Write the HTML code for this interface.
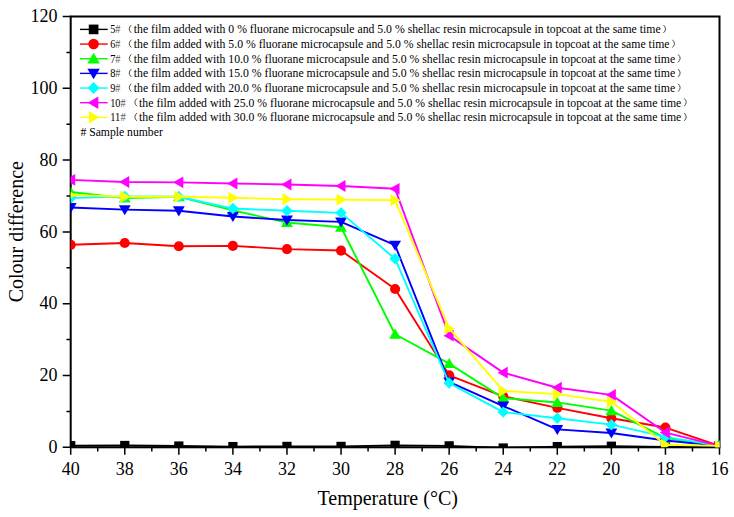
<!DOCTYPE html>
<html><head><meta charset="utf-8"><style>
html,body{margin:0;padding:0;background:#fff;width:734px;height:517px;overflow:hidden;}
svg{display:block;}
text{font-family:"Liberation Serif",serif;fill:#000;}
</style></head><body>
<svg width="734" height="517" viewBox="0 0 734 517">
<rect width="734" height="517" fill="#fff"/>
<rect x="70.70" y="16.50" width="648.80" height="430.80" fill="none" stroke="#000" stroke-width="2"/>
<path d="M70.70 447.30V454.70M124.77 447.30V454.70M178.83 447.30V454.70M232.90 447.30V454.70M286.97 447.30V454.70M341.03 447.30V454.70M395.10 447.30V454.70M449.17 447.30V454.70M503.23 447.30V454.70M557.30 447.30V454.70M611.37 447.30V454.70M665.43 447.30V454.70M719.50 447.30V454.70M97.73 447.30V451.50M151.80 447.30V451.50M205.87 447.30V451.50M259.93 447.30V451.50M314.00 447.30V451.50M368.07 447.30V451.50M422.13 447.30V451.50M476.20 447.30V451.50M530.27 447.30V451.50M584.33 447.30V451.50M638.40 447.30V451.50M692.47 447.30V451.50M70.70 447.30H62.70M70.70 375.50H62.70M70.70 303.70H62.70M70.70 231.90H62.70M70.70 160.10H62.70M70.70 88.30H62.70M70.70 16.50H62.70M70.70 411.40H66.50M70.70 339.60H66.50M70.70 267.80H66.50M70.70 196.00H66.50M70.70 124.20H66.50M70.70 52.40H66.50" stroke="#000" stroke-width="1.5" fill="none"/>
<defs><clipPath id="pc"><rect x="70.70" y="16.50" width="648.80" height="430.80"/></clipPath></defs><g clip-path="url(#pc)">
<polyline points="70.70,445.68 124.77,445.50 178.83,446.04 232.90,446.58 286.97,446.40 341.03,446.40 395.10,445.33 449.17,445.86 503.23,448.02 557.30,446.58 611.37,446.22 665.43,446.94 719.50,447.30" fill="none" stroke="#000000" stroke-width="1.9" stroke-linejoin="round"/>
<rect x="66.08" y="441.06" width="9.24" height="9.24" fill="#000000"/>
<rect x="120.15" y="440.88" width="9.24" height="9.24" fill="#000000"/>
<rect x="174.21" y="441.42" width="9.24" height="9.24" fill="#000000"/>
<rect x="228.28" y="441.96" width="9.24" height="9.24" fill="#000000"/>
<rect x="282.35" y="441.78" width="9.24" height="9.24" fill="#000000"/>
<rect x="336.41" y="441.78" width="9.24" height="9.24" fill="#000000"/>
<rect x="390.48" y="440.71" width="9.24" height="9.24" fill="#000000"/>
<rect x="444.55" y="441.24" width="9.24" height="9.24" fill="#000000"/>
<rect x="498.61" y="443.40" width="9.24" height="9.24" fill="#000000"/>
<rect x="552.68" y="441.96" width="9.24" height="9.24" fill="#000000"/>
<rect x="606.75" y="441.60" width="9.24" height="9.24" fill="#000000"/>
<rect x="660.81" y="442.32" width="9.24" height="9.24" fill="#000000"/>
<rect x="714.88" y="442.68" width="9.24" height="9.24" fill="#000000"/>
<polyline points="70.70,244.82 124.77,243.03 178.83,246.26 232.90,245.90 286.97,249.13 341.03,250.57 395.10,288.98 449.17,375.32 503.23,396.32 557.30,407.81 611.37,418.22 665.43,427.56 719.50,445.86" fill="none" stroke="#ff0000" stroke-width="1.9" stroke-linejoin="round"/>
<circle cx="70.70" cy="244.82" r="5.06" fill="#ff0000"/>
<circle cx="124.77" cy="243.03" r="5.06" fill="#ff0000"/>
<circle cx="178.83" cy="246.26" r="5.06" fill="#ff0000"/>
<circle cx="232.90" cy="245.90" r="5.06" fill="#ff0000"/>
<circle cx="286.97" cy="249.13" r="5.06" fill="#ff0000"/>
<circle cx="341.03" cy="250.57" r="5.06" fill="#ff0000"/>
<circle cx="395.10" cy="288.98" r="5.06" fill="#ff0000"/>
<circle cx="449.17" cy="375.32" r="5.06" fill="#ff0000"/>
<circle cx="503.23" cy="396.32" r="5.06" fill="#ff0000"/>
<circle cx="557.30" cy="407.81" r="5.06" fill="#ff0000"/>
<circle cx="611.37" cy="418.22" r="5.06" fill="#ff0000"/>
<circle cx="665.43" cy="427.56" r="5.06" fill="#ff0000"/>
<circle cx="719.50" cy="445.86" r="5.06" fill="#ff0000"/>
<polyline points="70.70,192.05 124.77,198.15 178.83,196.72 232.90,210.36 286.97,222.57 341.03,227.23 395.10,334.22 449.17,363.65 503.23,398.12 557.30,402.43 611.37,410.68 665.43,437.97 719.50,445.86" fill="none" stroke="#00ff00" stroke-width="1.9" stroke-linejoin="round"/>
<path d="M70.70 186.39L76.64 196.51L64.76 196.51Z" fill="#00ff00"/>
<path d="M124.77 192.49L130.71 202.61L118.83 202.61Z" fill="#00ff00"/>
<path d="M178.83 191.06L184.77 201.18L172.89 201.18Z" fill="#00ff00"/>
<path d="M232.90 204.70L238.84 214.82L226.96 214.82Z" fill="#00ff00"/>
<path d="M286.97 216.91L292.91 227.03L281.03 227.03Z" fill="#00ff00"/>
<path d="M341.03 221.57L346.97 231.69L335.09 231.69Z" fill="#00ff00"/>
<path d="M395.10 328.56L401.04 338.68L389.16 338.68Z" fill="#00ff00"/>
<path d="M449.17 357.99L455.11 368.11L443.23 368.11Z" fill="#00ff00"/>
<path d="M503.23 392.46L509.17 402.58L497.29 402.58Z" fill="#00ff00"/>
<path d="M557.30 396.76L563.24 406.88L551.36 406.88Z" fill="#00ff00"/>
<path d="M611.37 405.02L617.31 415.14L605.43 415.14Z" fill="#00ff00"/>
<path d="M665.43 432.31L671.37 442.43L659.49 442.43Z" fill="#00ff00"/>
<path d="M719.50 440.20L725.44 450.32L713.56 450.32Z" fill="#00ff00"/>
<polyline points="70.70,207.49 124.77,209.64 178.83,210.72 232.90,216.46 286.97,220.05 341.03,221.85 395.10,245.18 449.17,381.96 503.23,406.01 557.30,429.35 611.37,432.94 665.43,440.48 719.50,445.86" fill="none" stroke="#0000ff" stroke-width="1.9" stroke-linejoin="round"/>
<path d="M70.70 213.15L76.64 203.03L64.76 203.03Z" fill="#0000ff"/>
<path d="M124.77 215.30L130.71 205.18L118.83 205.18Z" fill="#0000ff"/>
<path d="M178.83 216.38L184.77 206.26L172.89 206.26Z" fill="#0000ff"/>
<path d="M232.90 222.12L238.84 212.00L226.96 212.00Z" fill="#0000ff"/>
<path d="M286.97 225.71L292.91 215.59L281.03 215.59Z" fill="#0000ff"/>
<path d="M341.03 227.51L346.97 217.39L335.09 217.39Z" fill="#0000ff"/>
<path d="M395.10 250.84L401.04 240.72L389.16 240.72Z" fill="#0000ff"/>
<path d="M449.17 387.62L455.11 377.50L443.23 377.50Z" fill="#0000ff"/>
<path d="M503.23 411.68L509.17 401.56L497.29 401.56Z" fill="#0000ff"/>
<path d="M557.30 435.01L563.24 424.89L551.36 424.89Z" fill="#0000ff"/>
<path d="M611.37 438.60L617.31 428.48L605.43 428.48Z" fill="#0000ff"/>
<path d="M665.43 446.14L671.37 436.02L659.49 436.02Z" fill="#0000ff"/>
<path d="M719.50 451.52L725.44 441.40L713.56 441.40Z" fill="#0000ff"/>
<polyline points="70.70,198.15 124.77,196.36 178.83,196.72 232.90,208.56 286.97,210.72 341.03,212.87 395.10,258.83 449.17,383.04 503.23,412.12 557.30,418.22 611.37,424.68 665.43,436.89 719.50,445.86" fill="none" stroke="#00ffff" stroke-width="1.9" stroke-linejoin="round"/>
<path d="M70.70 192.43L76.42 198.15L70.70 203.87L64.98 198.15Z" fill="#00ffff"/>
<path d="M124.77 190.64L130.49 196.36L124.77 202.08L119.05 196.36Z" fill="#00ffff"/>
<path d="M178.83 191.00L184.55 196.72L178.83 202.44L173.11 196.72Z" fill="#00ffff"/>
<path d="M232.90 202.84L238.62 208.56L232.90 214.28L227.18 208.56Z" fill="#00ffff"/>
<path d="M286.97 205.00L292.69 210.72L286.97 216.44L281.25 210.72Z" fill="#00ffff"/>
<path d="M341.03 207.15L346.75 212.87L341.03 218.59L335.31 212.87Z" fill="#00ffff"/>
<path d="M395.10 253.11L400.82 258.83L395.10 264.55L389.38 258.83Z" fill="#00ffff"/>
<path d="M449.17 377.32L454.89 383.04L449.17 388.76L443.45 383.04Z" fill="#00ffff"/>
<path d="M503.23 406.40L508.95 412.12L503.23 417.84L497.51 412.12Z" fill="#00ffff"/>
<path d="M557.30 412.50L563.02 418.22L557.30 423.94L551.58 418.22Z" fill="#00ffff"/>
<path d="M611.37 418.96L617.09 424.68L611.37 430.40L605.65 424.68Z" fill="#00ffff"/>
<path d="M665.43 431.17L671.15 436.89L665.43 442.61L659.71 436.89Z" fill="#00ffff"/>
<path d="M719.50 440.14L725.22 445.86L719.50 451.58L713.78 445.86Z" fill="#00ffff"/>
<polyline points="70.70,179.84 124.77,182.00 178.83,182.36 232.90,183.44 286.97,184.51 341.03,185.95 395.10,188.82 449.17,335.65 503.23,372.63 557.30,387.71 611.37,394.89 665.43,432.58 719.50,445.86" fill="none" stroke="#ff00ff" stroke-width="1.9" stroke-linejoin="round"/>
<path d="M65.04 179.84L75.16 173.90L75.16 185.78Z" fill="#ff00ff"/>
<path d="M119.11 182.00L129.23 176.06L129.23 187.94Z" fill="#ff00ff"/>
<path d="M173.17 182.36L183.29 176.42L183.29 188.30Z" fill="#ff00ff"/>
<path d="M227.24 183.44L237.36 177.50L237.36 189.38Z" fill="#ff00ff"/>
<path d="M281.31 184.51L291.43 178.57L291.43 190.45Z" fill="#ff00ff"/>
<path d="M335.37 185.95L345.49 180.01L345.49 191.89Z" fill="#ff00ff"/>
<path d="M389.44 188.82L399.56 182.88L399.56 194.76Z" fill="#ff00ff"/>
<path d="M443.51 335.65L453.63 329.71L453.63 341.59Z" fill="#ff00ff"/>
<path d="M497.57 372.63L507.69 366.69L507.69 378.57Z" fill="#ff00ff"/>
<path d="M551.64 387.71L561.76 381.77L561.76 393.65Z" fill="#ff00ff"/>
<path d="M605.71 394.89L615.83 388.95L615.83 400.83Z" fill="#ff00ff"/>
<path d="M659.77 432.58L669.89 426.64L669.89 438.52Z" fill="#ff00ff"/>
<path d="M713.84 445.86L723.96 439.92L723.96 451.80Z" fill="#ff00ff"/>
<polyline points="70.70,194.92 124.77,196.72 178.83,196.72 232.90,197.79 286.97,199.23 341.03,199.59 395.10,200.31 449.17,328.47 503.23,390.94 557.30,394.17 611.37,401.71 665.43,444.79 719.50,445.86" fill="none" stroke="#ffff00" stroke-width="1.9" stroke-linejoin="round"/>
<path d="M76.36 194.92L66.24 188.98L66.24 200.86Z" fill="#ffff00"/>
<path d="M130.43 196.72L120.31 190.78L120.31 202.66Z" fill="#ffff00"/>
<path d="M184.49 196.72L174.37 190.78L174.37 202.66Z" fill="#ffff00"/>
<path d="M238.56 197.79L228.44 191.85L228.44 203.73Z" fill="#ffff00"/>
<path d="M292.63 199.23L282.51 193.29L282.51 205.17Z" fill="#ffff00"/>
<path d="M346.69 199.59L336.57 193.65L336.57 205.53Z" fill="#ffff00"/>
<path d="M400.76 200.31L390.64 194.37L390.64 206.25Z" fill="#ffff00"/>
<path d="M454.83 328.47L444.71 322.53L444.71 334.41Z" fill="#ffff00"/>
<path d="M508.89 390.94L498.77 385.00L498.77 396.88Z" fill="#ffff00"/>
<path d="M562.96 394.17L552.84 388.23L552.84 400.11Z" fill="#ffff00"/>
<path d="M617.03 401.71L606.91 395.77L606.91 407.65Z" fill="#ffff00"/>
<path d="M671.09 444.79L660.97 438.85L660.97 450.73Z" fill="#ffff00"/>
<path d="M725.16 445.86L715.04 439.92L715.04 451.80Z" fill="#ffff00"/>
</g>
<text x="70.70" y="474.5" font-size="18" text-anchor="middle">40</text>
<text x="124.77" y="474.5" font-size="18" text-anchor="middle">38</text>
<text x="178.83" y="474.5" font-size="18" text-anchor="middle">36</text>
<text x="232.90" y="474.5" font-size="18" text-anchor="middle">34</text>
<text x="286.97" y="474.5" font-size="18" text-anchor="middle">32</text>
<text x="341.03" y="474.5" font-size="18" text-anchor="middle">30</text>
<text x="395.10" y="474.5" font-size="18" text-anchor="middle">28</text>
<text x="449.17" y="474.5" font-size="18" text-anchor="middle">26</text>
<text x="503.23" y="474.5" font-size="18" text-anchor="middle">24</text>
<text x="557.30" y="474.5" font-size="18" text-anchor="middle">22</text>
<text x="611.37" y="474.5" font-size="18" text-anchor="middle">20</text>
<text x="665.43" y="474.5" font-size="18" text-anchor="middle">18</text>
<text x="719.50" y="474.5" font-size="18" text-anchor="middle">16</text>
<text x="57.5" y="452.90" font-size="18" text-anchor="end">0</text>
<text x="57.5" y="381.10" font-size="18" text-anchor="end">20</text>
<text x="57.5" y="309.30" font-size="18" text-anchor="end">40</text>
<text x="57.5" y="237.50" font-size="18" text-anchor="end">60</text>
<text x="57.5" y="165.70" font-size="18" text-anchor="end">80</text>
<text x="57.5" y="93.90" font-size="18" text-anchor="end">100</text>
<text x="57.5" y="22.10" font-size="18" text-anchor="end">120</text>
<text x="387.7" y="505" font-size="20" text-anchor="middle">Temperature (°C)</text>
<text transform="translate(23,231.7) rotate(-90)" font-size="20" text-anchor="middle">Colour difference</text>
<path d="M80 29.40H107.7" stroke="#000000" stroke-width="1.4"/>
<rect x="88.77" y="24.57" width="9.66" height="9.66" fill="#000000"/>
<text x="110.2" y="33.40" font-size="11.6" textLength="10.3" lengthAdjust="spacingAndGlyphs">5<tspan fill="#555">#</tspan></text>
<path d="M131.30 25.10Q127.20 29.00 131.30 32.90" fill="none" stroke="#444" stroke-width="0.95"/>
<text x="133.80" y="33.40" font-size="11.6" textLength="526.80" lengthAdjust="spacingAndGlyphs">the film added with 0 % fluorane microcapsule and 5.0 % shellac resin microcapsule in topcoat at the same time</text>
<path d="M663.50 25.10Q667.60 29.00 663.50 32.90" fill="none" stroke="#444" stroke-width="0.95"/>
<path d="M80 44.06H107.7" stroke="#ff0000" stroke-width="1.4"/>
<circle cx="93.60" cy="44.06" r="5.29" fill="#ff0000"/>
<text x="110.2" y="48.06" font-size="11.6" textLength="10.3" lengthAdjust="spacingAndGlyphs">6<tspan fill="#555">#</tspan></text>
<path d="M131.30 39.76Q127.20 43.66 131.30 47.56" fill="none" stroke="#444" stroke-width="0.95"/>
<text x="133.80" y="48.06" font-size="11.6" textLength="535.70" lengthAdjust="spacingAndGlyphs">the film added with 5.0 % fluorane microcapsule and 5.0 % shellac resin microcapsule in topcoat at the same time</text>
<path d="M672.40 39.76Q676.50 43.66 672.40 47.56" fill="none" stroke="#444" stroke-width="0.95"/>
<path d="M80 58.72H107.7" stroke="#00ff00" stroke-width="1.4"/>
<path d="M93.60 52.83L99.81 63.41L87.39 63.41Z" fill="#00ff00"/>
<text x="110.2" y="62.72" font-size="11.6" textLength="10.3" lengthAdjust="spacingAndGlyphs">7<tspan fill="#555">#</tspan></text>
<path d="M131.30 54.42Q127.20 58.32 131.30 62.22" fill="none" stroke="#444" stroke-width="0.95"/>
<text x="133.80" y="62.72" font-size="11.6" textLength="541.40" lengthAdjust="spacingAndGlyphs">the film added with 10.0 % fluorane microcapsule and 5.0 % shellac resin microcapsule in topcoat at the same time</text>
<path d="M678.10 54.42Q682.20 58.32 678.10 62.22" fill="none" stroke="#444" stroke-width="0.95"/>
<path d="M80 73.38H107.7" stroke="#0000ff" stroke-width="1.4"/>
<path d="M93.60 79.27L99.81 68.69L87.39 68.69Z" fill="#0000ff"/>
<text x="110.2" y="77.38" font-size="11.6" textLength="10.3" lengthAdjust="spacingAndGlyphs">8<tspan fill="#555">#</tspan></text>
<path d="M131.30 69.08Q127.20 72.98 131.30 76.88" fill="none" stroke="#444" stroke-width="0.95"/>
<text x="133.80" y="77.38" font-size="11.6" textLength="541.40" lengthAdjust="spacingAndGlyphs">the film added with 15.0 % fluorane microcapsule and 5.0 % shellac resin microcapsule in topcoat at the same time</text>
<path d="M678.10 69.08Q682.20 72.98 678.10 76.88" fill="none" stroke="#444" stroke-width="0.95"/>
<path d="M80 88.04H107.7" stroke="#00ffff" stroke-width="1.4"/>
<path d="M93.60 82.06L99.58 88.04L93.60 94.02L87.62 88.04Z" fill="#00ffff"/>
<text x="110.2" y="92.04" font-size="11.6" textLength="10.3" lengthAdjust="spacingAndGlyphs">9<tspan fill="#555">#</tspan></text>
<path d="M131.30 83.74Q127.20 87.64 131.30 91.54" fill="none" stroke="#444" stroke-width="0.95"/>
<text x="133.80" y="92.04" font-size="11.6" textLength="541.40" lengthAdjust="spacingAndGlyphs">the film added with 20.0 % fluorane microcapsule and 5.0 % shellac resin microcapsule in topcoat at the same time</text>
<path d="M678.10 83.74Q682.20 87.64 678.10 91.54" fill="none" stroke="#444" stroke-width="0.95"/>
<path d="M80 102.70H107.7" stroke="#ff00ff" stroke-width="1.4"/>
<path d="M87.71 102.70L98.29 96.49L98.29 108.91Z" fill="#ff00ff"/>
<text x="110.2" y="106.70" font-size="11.6" textLength="15.5" lengthAdjust="spacingAndGlyphs">10<tspan fill="#555">#</tspan></text>
<path d="M136.90 98.40Q132.80 102.30 136.90 106.20" fill="none" stroke="#444" stroke-width="0.95"/>
<text x="139.10" y="106.70" font-size="11.6" textLength="542.20" lengthAdjust="spacingAndGlyphs">the film added with 25.0 % fluorane microcapsule and 5.0 % shellac resin microcapsule in topcoat at the same time</text>
<path d="M684.20 98.40Q688.30 102.30 684.20 106.20" fill="none" stroke="#444" stroke-width="0.95"/>
<path d="M80 117.36H107.7" stroke="#ffff00" stroke-width="1.4"/>
<path d="M99.49 117.36L88.91 111.15L88.91 123.57Z" fill="#ffff00"/>
<text x="110.2" y="121.36" font-size="11.6" textLength="15.5" lengthAdjust="spacingAndGlyphs">11<tspan fill="#555">#</tspan></text>
<path d="M136.90 113.06Q132.80 116.96 136.90 120.86" fill="none" stroke="#444" stroke-width="0.95"/>
<text x="139.10" y="121.36" font-size="11.6" textLength="542.20" lengthAdjust="spacingAndGlyphs">the film added with 30.0 % fluorane microcapsule and 5.0 % shellac resin microcapsule in topcoat at the same time</text>
<path d="M684.20 113.06Q688.30 116.96 684.20 120.86" fill="none" stroke="#444" stroke-width="0.95"/>
<text x="80.4" y="136.02" font-size="11.6" textLength="82.4" lengthAdjust="spacingAndGlyphs"># Sample number</text>
</svg></body></html>
